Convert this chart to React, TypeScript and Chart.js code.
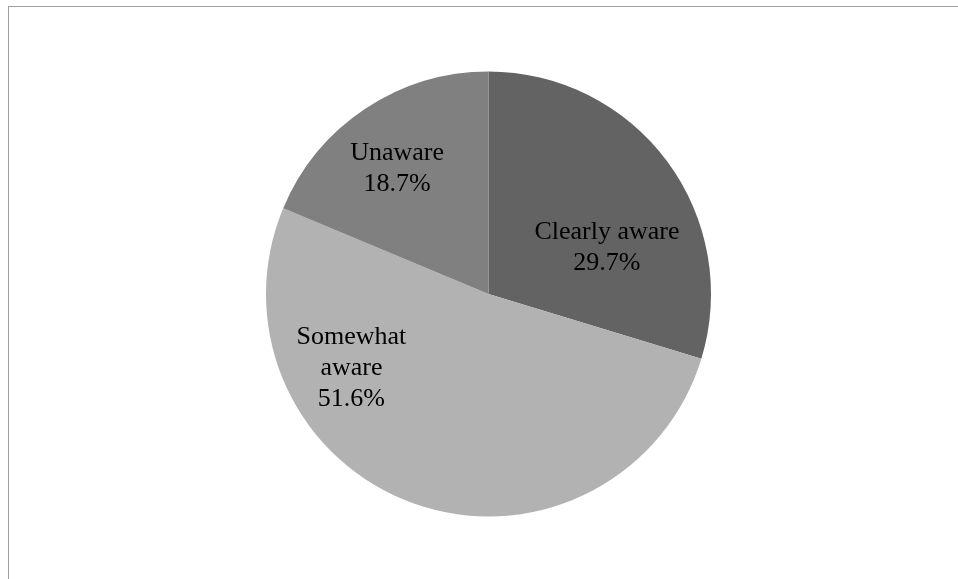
import React, { useEffect, useRef } from "react";
import { Chart, registerables } from "chart.js";

Chart.register(...registerables);

const categories = ["Clearly aware", "Somewhat aware", "Unaware"];
const shares = [29.7, 51.6, 18.7];
const sliceColors = ["#636363", "#b2b2b2", "#808080"];

// label placement (styling): angle shift from slice mid-angle (deg), radius fraction, wrap words
const labelPlacement = [
  { shift: 14.3, frac: 0.575, wrap: false },
  { shift: 42.3, frac: 0.697, wrap: true },
  { shift: -2.1, frac: 0.703, wrap: false },
];

const FONT_SIZE = 26;
const LINE_H = 31;
const CAP_H = 0.662 * FONT_SIZE;

const labelPlugin = {
  id: "sliceLabels",
  afterDatasetsDraw(chart: any) {
    const ctx = chart.ctx;
    const meta = chart.getDatasetMeta(0);
    const data = chart.data.datasets[0].data as number[];
    ctx.save();
    ctx.font = `${FONT_SIZE}px "Liberation Serif", "Times New Roman", serif`;
    ctx.fillStyle = "#000000";
    ctx.textAlign = "center";
    ctx.textBaseline = "alphabetic";
    meta.data.forEach((arc: any, i: number) => {
      const p = arc.getProps(["x", "y", "startAngle", "endAngle", "outerRadius"], true);
      const place = labelPlacement[i];
      const mid = (p.startAngle + p.endAngle) / 2 + (place.shift * Math.PI) / 180;
      const r = p.outerRadius * place.frac;
      const cx = p.x + Math.cos(mid) * r;
      const cy = p.y + Math.sin(mid) * r;
      const name = chart.data.labels[i] as string;
      const lines = place.wrap ? name.split(" ") : [name];
      lines.push(data[i].toFixed(1) + "%");
      const n = lines.length;
      lines.forEach((ln: string, k: number) => {
        const by = cy - ((n - 1) / 2) * LINE_H + k * LINE_H + CAP_H / 2;
        ctx.fillText(ln, cx, by);
      });
    });
    ctx.restore();
  },
};

export default function App() {
  const ref = useRef<HTMLCanvasElement | null>(null);
  useEffect(() => {
    document.body.style.margin = "0";
    document.body.style.overflow = "hidden";
    const chart = new Chart(ref.current as HTMLCanvasElement, {
      type: "pie",
      data: {
        labels: categories,
        datasets: [
          {
            data: shares,
            backgroundColor: sliceColors,
            borderWidth: 0,
          },
        ],
      },
      options: {
        animation: false,
        responsive: false,
        maintainAspectRatio: false,
        rotation: 0,
        layout: { padding: { top: 71.5, bottom: 62.5, left: 266, right: 247 } },
        plugins: {
          legend: { display: false },
          tooltip: { enabled: false },
          title: { display: false },
        },
      },
      plugins: [labelPlugin],
    });
    return () => chart.destroy();
  }, []);
  return (
    <div style={{ position: "relative", width: 958, height: 579, overflow: "hidden", background: "#ffffff" }}>
      <div
        style={{
          position: "absolute",
          left: 8,
          top: 6,
          width: 1000,
          height: 700,
          borderLeft: "1px solid #a0a0a0",
          borderTop: "1px solid #a0a0a0",
          boxSizing: "border-box",
        }}
      />
      <canvas ref={ref} width={958} height={579} style={{ position: "absolute", left: 0, top: 0, width: 958, height: 579 }} />
    </div>
  );
}
